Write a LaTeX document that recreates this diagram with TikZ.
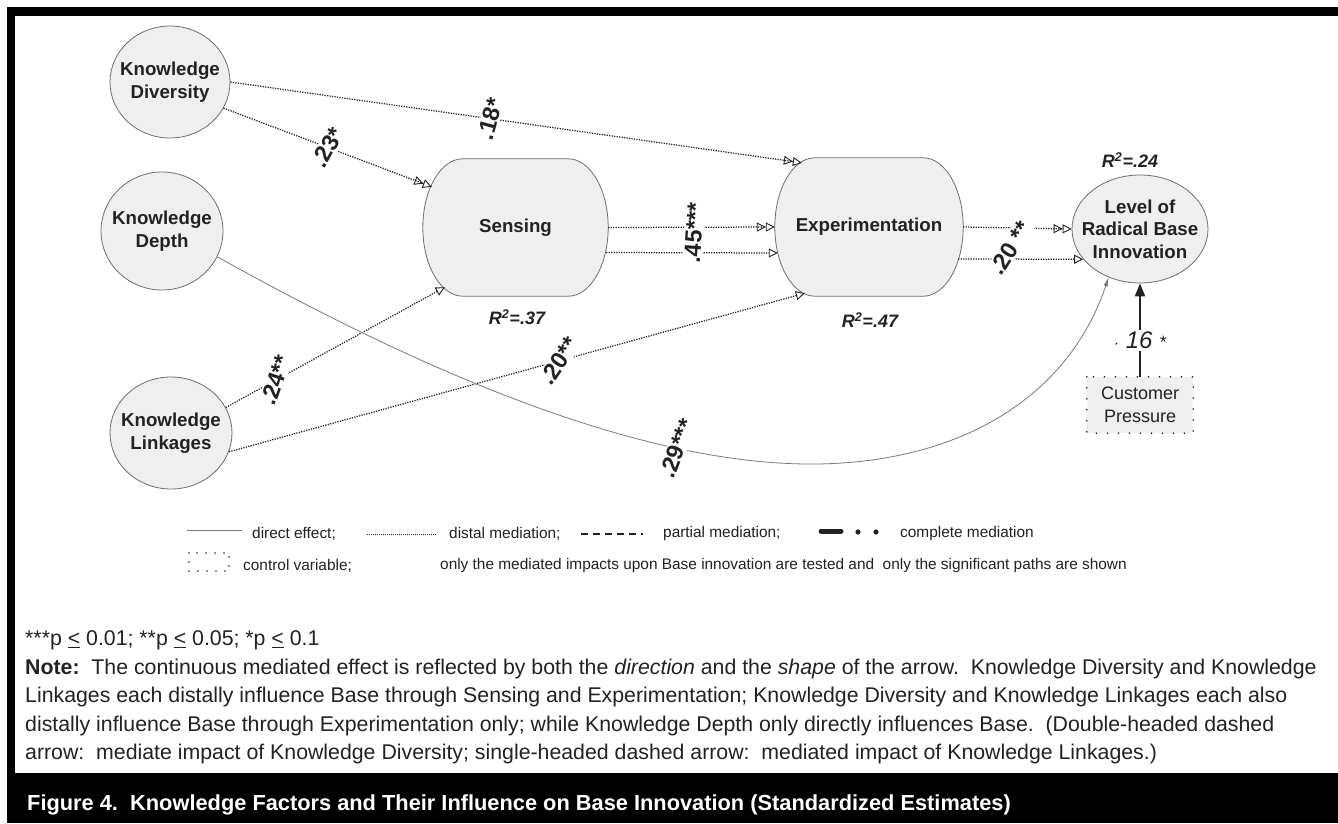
\documentclass[tikz,border=0pt]{standalone}
\usepackage{fontspec}
\setmainfont{Liberation Sans}
\usetikzlibrary{arrows.meta,shapes.geometric,calc,backgrounds}

\definecolor{nodefill}{HTML}{EFEFEF}
\definecolor{nodeline}{HTML}{6E6E6E}
\definecolor{directgray}{HTML}{7A7A7A}
\definecolor{ink}{HTML}{222222}

\begin{document}
\begin{tikzpicture}[x=1pt,y=-1pt,
  factor/.style={ellipse, draw=nodeline, fill=nodefill, line width=0.8pt, inner sep=0pt},
  ftext/.style={font=\fontsize{18.7}{22.5}\selectfont\bfseries, align=center, text=ink},
  mediator/.style={rectangle, inner sep=0pt, minimum width=185, minimum height=137,
    font=\fontsize{18.7}{22}\selectfont\bfseries, text=ink},
  control/.style={rectangle, fill=nodefill, inner sep=0pt, minimum width=106, minimum height=56,
    align=center, font=\fontsize{18}{23}\selectfont, text=ink},
  dots/.style={line width=1.8pt, dash pattern=on 0pt off 11pt, line cap=round, draw=ink},
  distal/.style={line width=1.25pt, dash pattern=on 1.25pt off 1.25pt, draw=ink},
  opentip/.style={Triangle[open,length=9pt,width=9pt,line width=0.9pt]},
  headone/.style={-{Triangle[open,length=9pt,width=9pt,line width=0.9pt]}},
  headtwo/.style={-{Triangle[open,length=9pt,width=9pt,line width=0.9pt] Triangle[open,length=9pt,width=9pt,line width=0.9pt]}},
  direct/.style={draw=directgray, line width=0.8pt},
  coef/.style={font=\fontsize{23.5}{23.5}\selectfont\bfseries, fill=white, inner sep=1.5pt, text=ink},
  rsq/.style={font=\fontsize{18}{18}\selectfont\bfseries\itshape, text=ink},
  legend/.style={anchor=west, inner sep=0pt, font=\fontsize{15.4}{17}\selectfont, text=ink},
]

% page, frame and caption band
\begin{pgfonlayer}{background}
  \fill[white] (0,0) rectangle (1338,823);
\end{pgfonlayer}
\fill[black] (7,7) rectangle (1338,16);
\fill[black] (7,7) rectangle (15,823);
\fill[black] (7,773) rectangle (1338,823);

% knowledge factors
\node[factor, minimum width=120, minimum height=112] (div) at (170,82) {};
\node[ftext] at (div.center) {Knowledge\\Diversity};
\node[factor, minimum width=122, minimum height=118] (dep) at (162,231) {};
\node[ftext] at (dep.center) {Knowledge\\Depth};
\node[factor, minimum width=122, minimum height=112] (lin) at (171,433) {};
\node[ftext] at (lin.center) {Knowledge\\Linkages};

% mediators
\node[mediator] (sen) at (515.5,227.5) {Sensing};
\node[mediator, minimum width=188, minimum height=138] (exp) at (869,227) {Experimentation};
\begin{pgfonlayer}{background}
  \foreach \n in {sen,exp}{
    \filldraw[draw=nodeline, fill=nodefill, line width=0.8pt]
      ($(\n.north west)+(40,0)$) -- ($(\n.north east)+(-40,0)$)
      .. controls +(22.1,0) and +(0,-37.8) .. (\n.east)
      .. controls +(0,37.8) and +(22.1,0) .. ($(\n.south east)+(-40,0)$)
      -- ($(\n.south west)+(40,0)$)
      .. controls +(-22.1,0) and +(0,37.8) .. (\n.west)
      .. controls +(0,-37.8) and +(-22.1,0) .. ($(\n.north west)+(40,0)$) -- cycle;
  }
\end{pgfonlayer}

% outcome and control
\node[factor, minimum width=136, minimum height=108] (lev) at (1140,229) {};
\node[ftext] at (lev.center) {Level of\\Radical Base\\Innovation};
\node[control] (cus) at (1140,405) {Customer\\Pressure};
\draw[dots] (cus.north west) rectangle (cus.south east);

% explained variance
\node[rsq] (r1) at (517,317) {R\textsuperscript{2}=.37};
\node[rsq] (r2) at (870,320) {R\textsuperscript{2}=.47};
\node[rsq] (r3) at (1130,160) {R\textsuperscript{2}=.24};

% distal mediation paths
\draw[distal,headtwo] (div.east) -- node[coef, rotate=75, pos=0.455] {.18*} ([shift={(27,5)}]exp.north west);
\draw[distal,headtwo] (div.-26.6) -- node[coef, rotate=61, pos=0.5] {.23*} ([shift={(9,28)}]sen.north west);
\draw[distal,headone] (lin.25.7) -- node[coef, rotate=71, pos=0.227] {.24**} ([shift={(22,-9)}]sen.south west);
\draw[distal,headone] (lin.-18.7) -- node[coef, rotate=56, pos=0.573] {.20**} ([shift={(30,-3)}]exp.south west);

\draw[distal,headtwo] (sen.east) -- (exp.west);
\draw[distal,headone] ([shift={(-2,25)}]sen.east) -- ([shift={(3,26)}]exp.west);
\node[coef, rotate=86] (c45) at (694,233) {.45***};

\draw[distal,headtwo] (exp.east) -- (lev.west);
\draw[distal,headone] ([shift={(-5,32)}]exp.east) -- (lev.-152);
\node[coef, rotate=58] (c20) at (1010,248) {.20 **};

% direct path
\draw[direct, -{Latex[length=9pt,width=4.5pt]}] (dep.-25.3)
  .. controls (420,370) and (640,466) .. (817,464) node[coef, rotate=69, pos=0.75] {.29***}
  .. controls (960,462) and (1068,398) .. (lev.-123);

% control path
\draw[line width=2.4pt, draw=ink, -{Triangle[length=13pt,width=10pt]}] (cus.north) --
  node[pos=0.39, fill=white, inner sep=2pt, font=\fontsize{24}{24}\selectfont\itshape, text=ink] {{\fontsize{16}{16}\selectfont·} 16 {\fontsize{18}{18}\selectfont*}} (lev.south);

% legend
\draw[direct] (187,530) -- (242,530);
\node[legend] (l1) at (252,534) {direct effect;};
\draw[distal, line width=0.9pt, dash pattern=on 1pt off 1pt] (367,534) -- (436,534);
\node[legend] (l2) at (449,534) {distal mediation;};
\draw[draw=ink, line width=2.5pt, dash pattern=on 7pt off 5pt] (581,534) -- (643,534);
\node[legend] (l3) at (663,534) {partial mediation;};
\draw[draw=ink, line width=5pt, line cap=round] (821,531) -- (841,531);
\fill[ink] (858,532) circle (2.6) (876,532) circle (2.6);
\node[legend] (l4) at (900,534) {complete mediation};
\draw[line width=1.6pt, dash pattern=on 0pt off 9pt, line cap=round, draw=ink] (189,553) rectangle (229,571);
\node[legend] (l5) at (243,566) {control variable;};
\node[legend] (l6) at (440,566) {only the mediated impacts upon Base innovation are tested and\ \ only the significant paths are shown};

% notes
\node[anchor=north west, inner sep=0pt, align=left, font=\fontsize{21.3}{28.5}\selectfont, text=ink] (notes) at (25,630.5) {%
***p \underline{<} 0.01; **p \underline{<} 0.05; *p \underline{<} 0.1\\
\textbf{Note:}\ \ The continuous mediated effect is reflected by both the \textit{direction} and the \textit{shape} of the arrow.\ \ Knowledge Diversity and Knowledge\\
Linkages each distally influence Base through Sensing and Experimentation; Knowledge Diversity and Knowledge Linkages each also\\
distally influence Base through Experimentation only; while Knowledge Depth only directly influences Base.\ \ (Double-headed dashed\\
arrow:\ \ mediate impact of Knowledge Diversity; single-headed dashed arrow:\ \ mediated impact of Knowledge Linkages.)};

% caption
\node[anchor=west, inner sep=0pt, text=white, font=\fontsize{21.8}{24}\selectfont\bfseries] (cap) at (27,805)
  {Figure 4.\ \ Knowledge Factors and Their Influence on Base Innovation (Standardized Estimates)};

\useasboundingbox (0,0) rectangle (1338,823);
\end{tikzpicture}
\end{document}
